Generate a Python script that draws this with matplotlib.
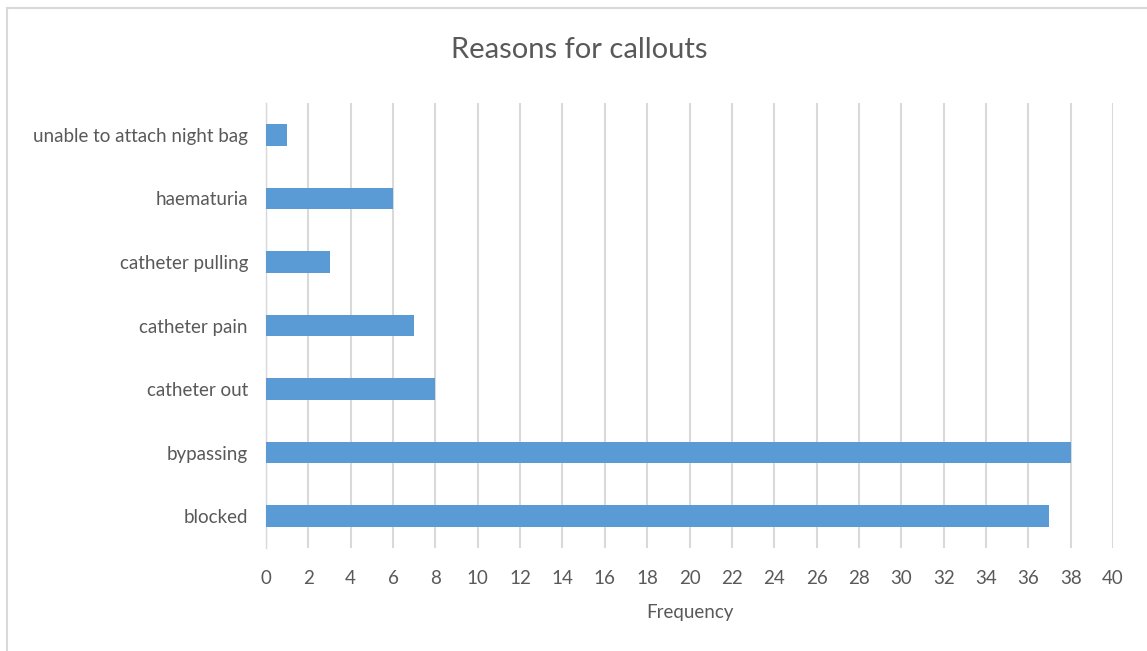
import matplotlib
matplotlib.use("Agg")
import matplotlib.pyplot as plt
from matplotlib.lines import Line2D

categories = ["blocked", "bypassing", "catheter out", "catheter pain",
              "catheter pulling", "haematuria", "unable to attach night bag"]
values = [37, 38, 8, 7, 3, 6, 1]
xticks = list(range(0, 41, 2))

W, H = 1147, 651
fig = plt.figure(figsize=(W / 100, H / 100), dpi=100)
plt.rcParams['font.family'] = ['Lato', 'DejaVu Sans']
txt = "#595959"

ax = fig.add_axes([266 / W, 1 - 548 / H, (1113 - 266) / W, (548 - 103) / H])
ypos = range(len(categories))
ax.barh(ypos, values, height=0.34, color="#5b9bd5", zorder=3)
ax.set_xlim(0, 40)
ax.set_ylim(-0.5, len(categories) - 0.5)
ax.set_xticks(xticks)
ax.set_xticklabels([str(t) for t in xticks], fontsize=13.5, color=txt)
ax.set_yticks(list(ypos))
ax.set_yticklabels(categories, fontsize=13.5, color=txt)
ax.tick_params(axis="x", length=0, pad=16)
ax.tick_params(axis="y", length=0, pad=13)
ax.grid(axis="x", color="#d9d9d9", linewidth=1.5, zorder=0)
for s in ["top", "right", "bottom"]:
    ax.spines[s].set_visible(False)
ax.spines["left"].set_color("#d9d9d9")
ax.spines["left"].set_linewidth(1.0)
ax.set_xlabel("Frequency", fontsize=13.5, color=txt, labelpad=12)

fig.text(579 / W, 1 - 50 / H, "Reasons for callouts", fontsize=21, color=txt,
         ha="center", va="center")

# chart frame
fig.add_artist(Line2D([6.5 / W, 6.5 / W], [0, 1 - 7.5 / H], transform=fig.transFigure,
                      color="#d9d9d9", linewidth=1.5))
fig.add_artist(Line2D([6.5 / W, 1], [1 - 7.5 / H, 1 - 7.5 / H], transform=fig.transFigure,
                      color="#d9d9d9", linewidth=1.5))

fig.savefig("out.png", dpi=100)
